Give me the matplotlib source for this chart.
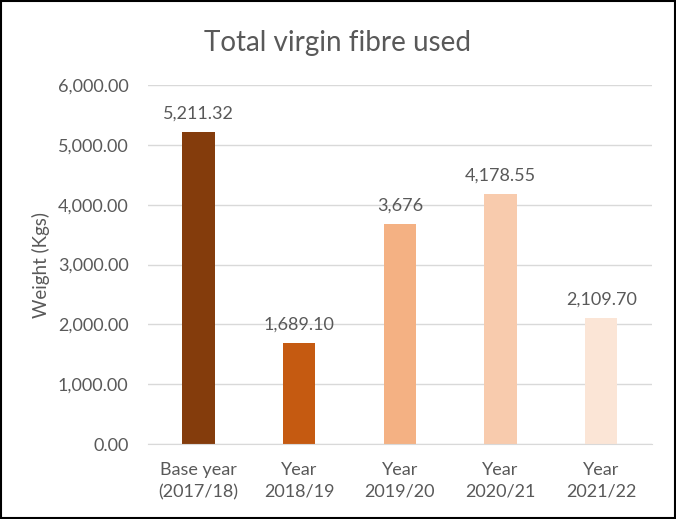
import matplotlib
matplotlib.use("Agg")
import matplotlib.pyplot as plt
from matplotlib.patches import Rectangle
from matplotlib.ticker import FuncFormatter

categories = ["Base year\n(2017/18)", "Year\n2018/19", "Year\n2019/20", "Year\n2020/21", "Year\n2021/22"]
values = [5211.32, 1689.10, 3676, 4178.55, 2109.70]
value_labels = ["5,211.32", "1,689.10", "3,676", "4,178.55", "2,109.70"]
colors = ["#843C0C", "#C55A11", "#F4B183", "#F8CBAD", "#FBE5D6"]

plt.rcParams['font.family'] = ['Lato', 'DejaVu Sans']
txt = "#595959"

fig = plt.figure(figsize=(6.76, 5.19), dpi=100)
ax = fig.add_axes([0.219, 0.1445, 0.745, 0.6915])
x = range(len(categories))
ax.bar(x, values, width=0.32, color=colors, zorder=3)
for xi, v, lab in zip(x, values, value_labels):
    ax.text(xi, v + 170, lab, ha='center', va='bottom', fontsize=13, color=txt)

ax.set_ylim(0, 6000)
ax.set_xlim(-0.5, len(categories) - 0.5)
ax.set_yticks(range(0, 6001, 1000))
ax.yaxis.set_major_formatter(FuncFormatter(lambda v, p: f"{v:,.2f}"))
ax.set_xticks(list(x))
ax.set_xticklabels(categories, fontsize=13, color=txt, linespacing=1.45)
ax.tick_params(axis='y', labelsize=13, labelcolor=txt, length=0, pad=14)
ax.tick_params(axis='x', length=0, pad=13)
ax.grid(axis='y', color='#D9D9D9', linewidth=1, zorder=0)
for s in ['top', 'right', 'left']:
    ax.spines[s].set_visible(False)
ax.spines['bottom'].set_color('#D9D9D9')
ax.spines['bottom'].set_zorder(4)
ax.set_ylabel("Weight (Kgs)", fontsize=13.5, color=txt, labelpad=6)

fig.text(0.5, 0.918, "Total virgin fibre used", ha='center', va='center', fontsize=20, color=txt)
fig.patches.append(Rectangle((0.002, 0.002), 0.996, 0.996, transform=fig.transFigure,
                             fill=False, edgecolor='black', linewidth=1.5))
fig.savefig("out.png", dpi=100)
